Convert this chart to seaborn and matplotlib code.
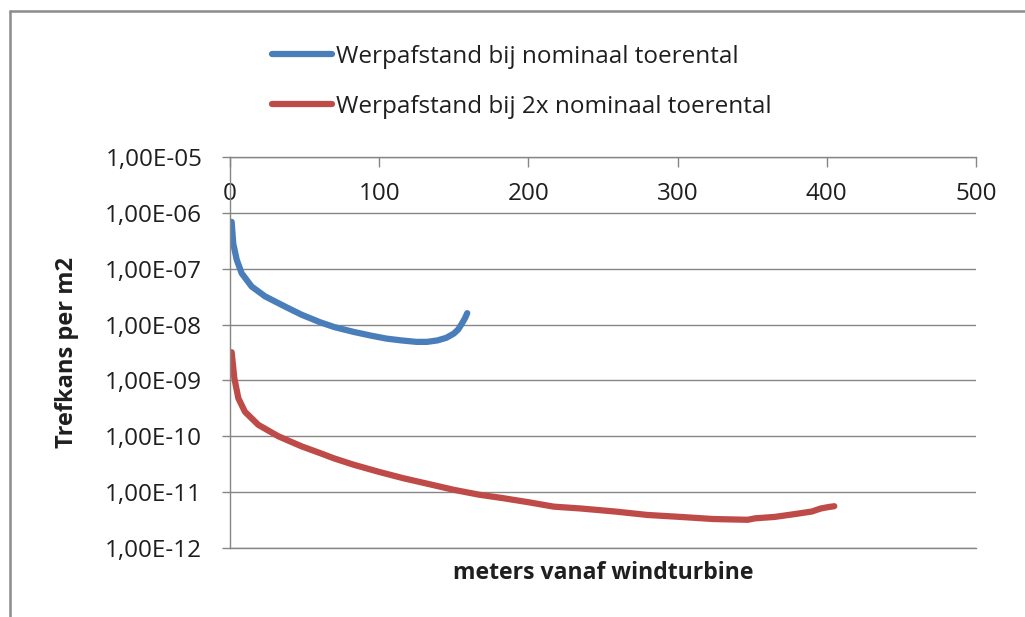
import numpy as np
import pandas as pd
import matplotlib
matplotlib.use("Agg")
import matplotlib.pyplot as plt
from matplotlib.ticker import FuncFormatter, NullLocator, MultipleLocator, LogLocator
from matplotlib.lines import Line2D
import seaborn as sns

# Gegevens
afstand_nominaal = [1.1, 2.2, 4.5, 7.8, 14.5, 23.5, 36.9, 48.0, 60.4,
                    70.0, 82.8, 95.0, 105.0, 115.0, 125.0, 132.0, 139.0, 145.0,
                    150.0, 153.0, 155.5, 157.5, 159.0]
trefkans_nominaal = [6.9e-7, 2.8e-7, 1.45e-7, 8.3e-8, 4.8e-8, 3.2e-8, 2.1e-8, 1.5e-8,
                     1.1e-8, 9.0e-9, 7.4e-9, 6.3e-9, 5.6e-9, 5.2e-9, 4.9e-9, 4.9e-9,
                     5.2e-9, 5.8e-9, 6.9e-9, 8.2e-9, 1.05e-8, 1.3e-8, 1.6e-8]

afstand_2x = [1.1, 2.9, 5.6, 10.0, 19.0, 32.4, 48.0, 60.4, 70.0, 82.8,
              100.0, 116.0, 133.0, 150.0, 167.0, 183.0, 200.0, 217.0, 235.0, 258.0,
              280.0, 302.0, 324.0, 347.0, 352.0, 365.0, 380.0, 390.0, 396.0, 401.0, 405.0]
trefkans_2x = [3.2e-9, 1.1e-9, 4.8e-10, 2.75e-10, 1.6e-10, 1.0e-10, 6.6e-11, 5.0e-11,
               4.0e-11, 3.1e-11, 2.3e-11, 1.78e-11, 1.4e-11, 1.1e-11, 9.0e-12, 7.8e-12,
               6.6e-12, 5.5e-12, 5.1e-12, 4.5e-12, 3.9e-12, 3.6e-12, 3.3e-12, 3.2e-12,
               3.4e-12, 3.6e-12, 4.1e-12, 4.5e-12, 5.1e-12, 5.4e-12, 5.6e-12]

series_namen = ["Werpafstand bij nominaal toerental", "Werpafstand bij 2x nominaal toerental"]
kleuren = ["#4A7EBB", "#BE4B48"]

df = pd.concat([
    pd.DataFrame({"afstand": afstand_nominaal, "trefkans": trefkans_nominaal, "serie": series_namen[0]}),
    pd.DataFrame({"afstand": afstand_2x, "trefkans": trefkans_2x, "serie": series_namen[1]}),
], ignore_index=True)

sns.set_theme(style="white")
plt.rcParams["font.family"] = ["Open Sans", "DejaVu Sans"]
tekstkleur = "#1f1f1f"
grijs = "#868686"

fig = plt.figure(figsize=(10.25, 6.17), dpi=100)
ax = fig.add_axes([230 / 1025, 1 - 548 / 617, 746 / 1025, 391 / 617])

sns.lineplot(data=df, x="afstand", y="trefkans", hue="serie", palette=kleuren,
             linewidth=4.5, sort=False, estimator=None, ax=ax)

ax.set_yscale("log")
ax.set_ylim(1e-12, 1e-5)
ax.set_xlim(0, 500)
ax.xaxis.set_major_locator(MultipleLocator(100))
ax.yaxis.set_major_locator(LogLocator(base=10, numticks=20))
ax.yaxis.set_minor_locator(NullLocator())
ax.yaxis.set_major_formatter(FuncFormatter(lambda v, p: f"{v:.2E}".replace(".", ",")))

ax.yaxis.grid(True, color=grijs, linewidth=1.0)
ax.xaxis.grid(False)
for kant in ["left", "top", "bottom"]:
    ax.spines[kant].set_color(grijs)
    ax.spines[kant].set_linewidth(1.0)
ax.spines["right"].set_visible(False)

# x-as bovenaan, labels onder de lijn
ax.tick_params(axis="x", top=True, bottom=False, labeltop=True, labelbottom=False,
               direction="in", length=7, width=1, color=grijs, pad=-35.5,
               labelsize=17.5, labelcolor=tekstkleur)
ax.tick_params(axis="y", left=True, direction="out", length=6, width=1, color=grijs,
               pad=14, labelsize=17.5, labelcolor=tekstkleur)

ax.xaxis.set_label_position("bottom")
ax.set_xlabel("meters vanaf windturbine", fontsize=16.6, fontweight="bold",
              color=tekstkleur, va="center")
ax.xaxis.set_label_coords(0.5, -(573 - 548) / 391)
ax.set_ylabel("Trefkans per m2", fontsize=17, fontweight="bold",
              color=tekstkleur, va="center")
ax.yaxis.set_label_coords((67 - 230) / 746, 0.5)

handles, labels = ax.get_legend_handles_labels()
ax.get_legend().remove()
fig.legend(handles, labels, loc="upper left", bbox_to_anchor=(272 / 1025, 1 - 45 / 617),
           frameon=False, fontsize=17.5, handlelength=2.46, handletextpad=0.16,
           labelspacing=1.05, borderpad=0, borderaxespad=0, labelcolor=tekstkleur)

# rand van het grafiekgebied
fig.add_artist(Line2D([9.5 / 1025, 9.5 / 1025], [0, 1 - 11 / 617], color="#8c8c8c",
                      linewidth=1.8, transform=fig.transFigure))
fig.add_artist(Line2D([9.5 / 1025, 1], [1 - 11 / 617, 1 - 11 / 617], color="#8c8c8c",
                      linewidth=1.8, transform=fig.transFigure))

fig.savefig("out.png", dpi=100, facecolor="white")
